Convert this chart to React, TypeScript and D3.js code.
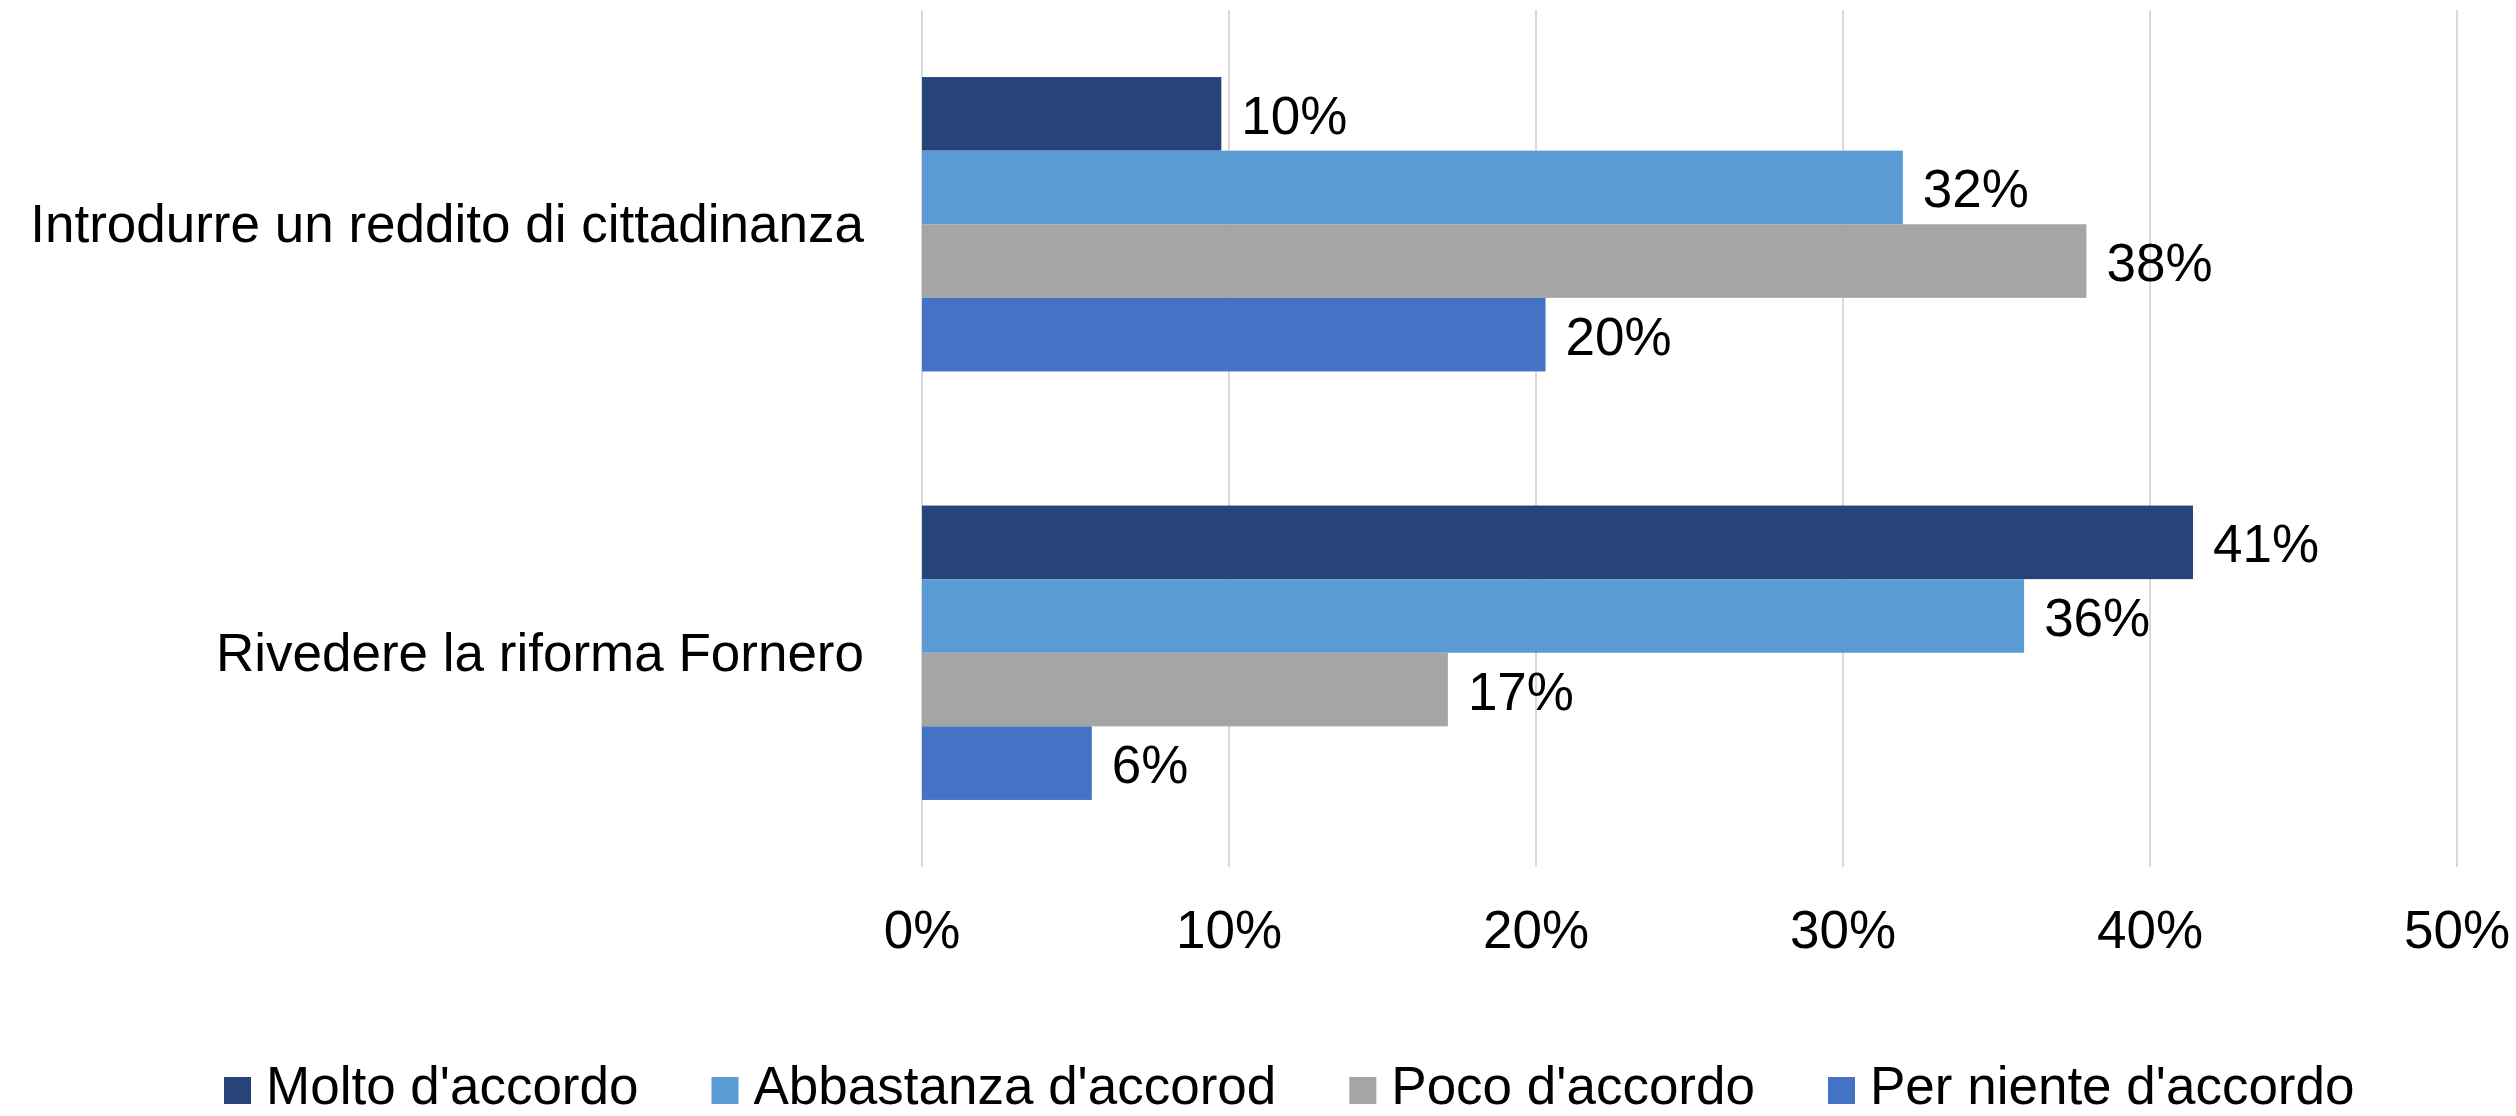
import React, { useEffect, useRef } from 'react';
import * as d3 from 'd3';

const categories = ['Introdurre un reddito di cittadinanza', 'Rivedere la riforma Fornero'];
const seriesNames = ["Molto d'accordo", "Abbastanza d'accorod", "Poco d'accordo", "Per niente d'accordo"];
const molto = [0.0975, 0.414];
const abbastanza = [0.3195, 0.359];
const poco = [0.3793, 0.1713];
const perNiente = [0.2031, 0.0553];
const seriesColors = ['#264478', '#5B9BD5', '#A5A5A5', '#4472C4'];
const xTicks = [0, 0.1, 0.2, 0.3, 0.4, 0.5];

const width = 2516;
const height = 1116;
const margin = { top: 10, right: 59, bottom: 249, left: 922 };
const fontFamily = "'Liberation Sans', Arial, sans-serif";
const fontSize = 53;

function App() {
  const ref = useRef<SVGSVGElement | null>(null);

  useEffect(() => {
    const svg = d3.select(ref.current);
    svg.selectAll('*').remove();

    const seriesValues = [molto, abbastanza, poco, perNiente];
    const rows = seriesNames.map((name, i) => ({ name, color: seriesColors[i], values: seriesValues[i] }));

    const x = d3.scaleLinear()
      .domain([0, 0.5])
      .range([margin.left, width - margin.right]);

    const y = d3.scaleBand()
      .domain(categories)
      .range([margin.top, height - margin.bottom])
      .paddingInner(0.313)
      .paddingOuter(0.1565);

    const ySub = d3.scaleBand()
      .domain(seriesNames)
      .range([0, y.bandwidth()]);

    const fmt = d3.format('.0%');

    // gridlines
    svg.append('g')
      .selectAll('line')
      .data(xTicks)
      .join('line')
      .attr('x1', d => x(d))
      .attr('x2', d => x(d))
      .attr('y1', margin.top)
      .attr('y2', height - margin.bottom)
      .attr('stroke', '#d9d9d9')
      .attr('stroke-width', 2);

    // tick labels
    svg.append('g')
      .selectAll('text')
      .data(xTicks)
      .join('text')
      .attr('x', d => x(d))
      .attr('y', height - margin.bottom + 81)
      .attr('text-anchor', 'middle')
      .style('font-family', fontFamily)
      .style('font-size', fontSize + 'px')
      .attr('fill', '#000')
      .text(d => fmt(d));

    // category labels
    svg.append('g')
      .selectAll('text')
      .data(categories)
      .join('text')
      .attr('x', margin.left - 58)
      .attr('y', d => (y(d) as number) + y.bandwidth() / 2 + 18)
      .attr('text-anchor', 'end')
      .style('font-family', fontFamily)
      .style('font-size', fontSize + 'px')
      .attr('fill', '#000')
      .text(d => d);

    // bars
    const groups = svg.append('g')
      .selectAll('g')
      .data(rows)
      .join('g')
      .attr('fill', d => d.color);

    groups.selectAll('rect')
      .data(d => d.values.map((v, j) => ({ v, cat: categories[j], name: d.name })))
      .join('rect')
      .attr('x', x(0))
      .attr('y', d => (y(d.cat) as number) + (ySub(d.name) as number))
      .attr('width', d => x(d.v) - x(0))
      .attr('height', ySub.bandwidth());

    // value labels
    groups.selectAll('text')
      .data(d => d.values.map((v, j) => ({ v, cat: categories[j], name: d.name })))
      .join('text')
      .attr('x', d => x(d.v) + 20)
      .attr('y', d => (y(d.cat) as number) + (ySub(d.name) as number) + ySub.bandwidth() / 2 + 20)
      .attr('fill', '#000')
      .style('font-family', fontFamily)
      .style('font-size', fontSize + 'px')
      .text(d => fmt(d.v));

    // legend
    const legend = svg.append('g').attr('class', 'legend');
    const box = 27;
    let cursor = 224;
    rows.forEach(r => {
      const item = legend.append('g').attr('transform', `translate(${cursor},0)`);
      item.append('rect')
        .attr('x', 0)
        .attr('y', 1077)
        .attr('width', box)
        .attr('height', box)
        .attr('fill', r.color);
      const t = item.append('text')
        .attr('x', box + 15)
        .attr('y', 1104)
        .attr('fill', '#000')
        .style('font-family', fontFamily)
        .style('font-size', fontSize + 'px')
        .text(r.name);
      const w = (t.node() as SVGTextElement).getComputedTextLength();
      cursor += box + 15 + w + 73;
    });
  }, []);

  return (
    <div style={{ position: 'absolute', left: 0, top: 0, width, height, background: '#fff' }}>
      <svg ref={ref} width={width} height={height} style={{ display: 'block' }} />
    </div>
  );
}

export default App;
